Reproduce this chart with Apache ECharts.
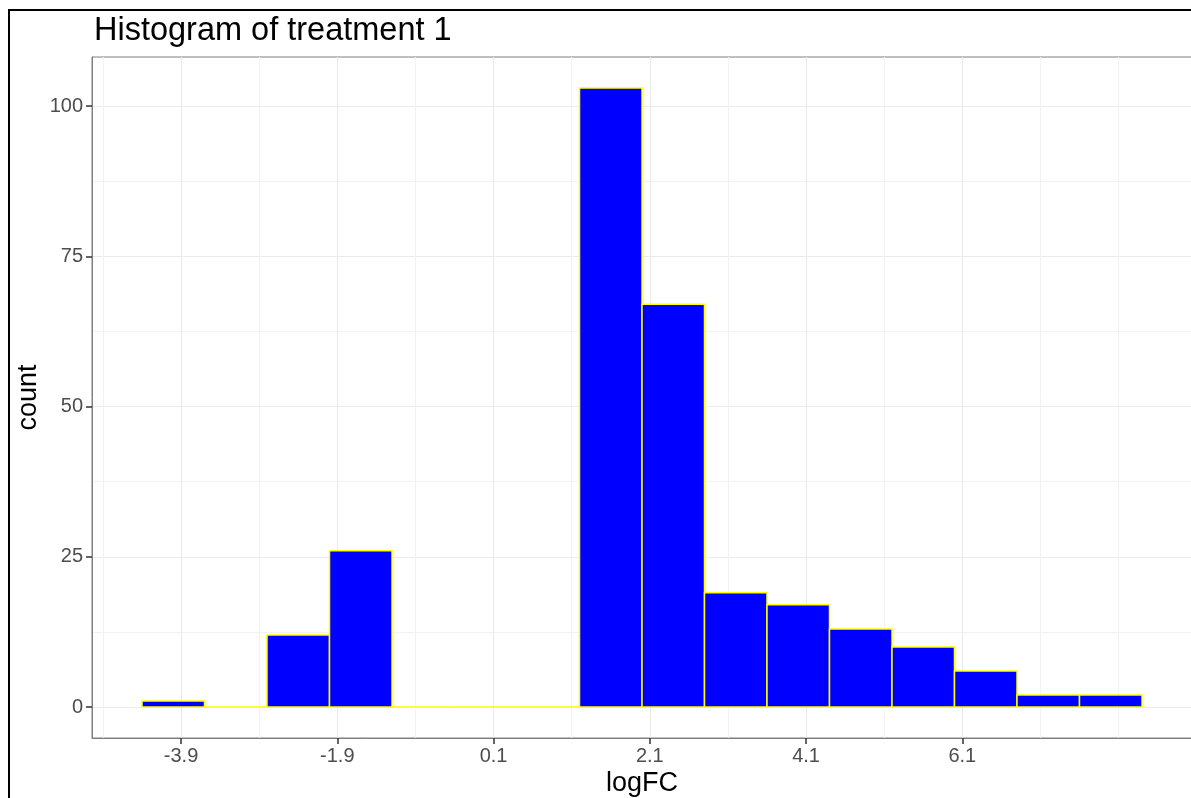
<!DOCTYPE html>
<html>
<head>
<meta charset="utf-8">
<title>Histogram of treatment 1</title>
<script src="https://cdn.jsdelivr.net/npm/echarts@6/dist/echarts.min.js"></script>
<style>
  html, body { margin: 0; padding: 0; background: #fff; }
  #chart { width: 1191px; height: 798px; }
</style>
</head>
<body>
<div id="chart"></div>
<script>
// histogram bins (logFC), width 0.8
const binEdges = [-4.4, -3.6, -2.8, -2.0, -1.2, -0.4, 0.4, 1.2, 2.0, 2.8, 3.6, 4.4, 5.2, 6.0, 6.8, 7.6, 8.4];
const counts = [1, 0, 12, 26, 0, 0, 0, 103, 67, 19, 17, 13, 10, 6, 2, 2];

const xBreaks = [-3.9, -1.9, 0.1, 2.1, 4.1, 6.1];
const xMinorBreaks = [-4.9, -2.9, -0.9, 1.1, 3.1, 5.1, 7.1, 8.1];
const yBreaks = [0, 25, 50, 75, 100];
const yMinorBreaks = [12.5, 37.5, 62.5, 87.5];

const binData = counts.map((c, i) => [binEdges[i], binEdges[i + 1], c]);

const chart = echarts.init(document.getElementById("chart"));

const fontFamily = "Liberation Sans, Arial, sans-serif";
const tickLabel = { fontFamily: fontFamily, fontSize: 20, color: "#4D4D4D" };
const panelLine = { show: true, onZero: false, lineStyle: { color: "#7F7F7F", width: 1 } };
const tickStyle = { color: "#333333", width: 1.5 };

const option = {
  backgroundColor: "#ffffff",
  animation: false,
  title: {
    text: "Histogram of treatment 1",
    left: 89,
    top: 10,
    textStyle: { fontFamily: fontFamily, fontSize: 32.5, fontWeight: "normal", color: "#000" },
  },
  grid: {
    left: 92,
    right: -1,
    top: 57,
    bottom: 60,
    outerBoundsMode: "none",
    containLabel: false,
    show: true,
    borderColor: "#7F7F7F",
    borderWidth: 1,
  },
  xAxis: [
    {
      type: "value",
      min: -5.04,
      max: 9.04,
      name: "logFC",
      nameLocation: "middle",
      nameGap: 32,
      nameMoveOverlap: false,
      nameTextStyle: { fontFamily: fontFamily, fontSize: 27, color: "#000" },
      axisLine: panelLine,
      axisTick: { show: true, inside: false, length: 6, customValues: xBreaks, lineStyle: tickStyle },
      axisLabel: Object.assign({ customValues: xBreaks, margin: 8, formatter: (v) => v.toFixed(1) }, tickLabel),
      splitLine: { show: true, lineStyle: { color: "#EBEBEB", width: 1.2 } },
    },
    {
      type: "value",
      min: -5.04,
      max: 9.04,
      axisLine: { show: false, onZero: false },
      axisTick: { show: false, customValues: xMinorBreaks },
      axisLabel: { show: false, customValues: xMinorBreaks },
      splitLine: { show: true, lineStyle: { color: "#F2F2F2", width: 1 } },
    },
  ],
  yAxis: [
    {
      type: "value",
      min: -5.15,
      max: 108.15,
      name: "count",
      nameLocation: "middle",
      nameGap: 50,
      nameRotate: 90,
      nameMoveOverlap: false,
      nameTextStyle: { fontFamily: fontFamily, fontSize: 27, color: "#000" },
      axisLine: panelLine,
      axisTick: { show: true, inside: false, length: 6, customValues: yBreaks, lineStyle: tickStyle },
      axisLabel: Object.assign({ customValues: yBreaks, margin: 9 }, tickLabel),
      splitLine: { show: true, lineStyle: { color: "#EBEBEB", width: 1.2 } },
    },
    {
      type: "value",
      min: -5.15,
      max: 108.15,
      axisLine: { show: false, onZero: false },
      axisTick: { show: false, customValues: yMinorBreaks },
      axisLabel: { show: false, customValues: yMinorBreaks },
      splitLine: { show: true, lineStyle: { color: "#F2F2F2", width: 1 } },
    },
  ],
  graphic: [
    {
      type: "rect",
      silent: true,
      shape: { x: 9, y: 10, width: 1400, height: 1000 },
      style: { fill: "none", stroke: "#000", lineWidth: 2 },
    },
  ],
  series: [
    {
      name: "count",
      type: "custom",
      xAxisIndex: 0,
      yAxisIndex: 0,
      data: binData,
      renderItem: (params, api) => {
        const top = api.coord([api.value(0), api.value(2)]);
        const bottom = api.coord([api.value(1), 0]);
        return {
          type: "rect",
          shape: { x: top[0], y: top[1], width: bottom[0] - top[0], height: bottom[1] - top[1] },
          style: { fill: "#0000FF", stroke: "#FFFF00", lineWidth: 1.5 },
        };
      },
    },
  ],
};

chart.setOption(option);
</script>
</body>
</html>
